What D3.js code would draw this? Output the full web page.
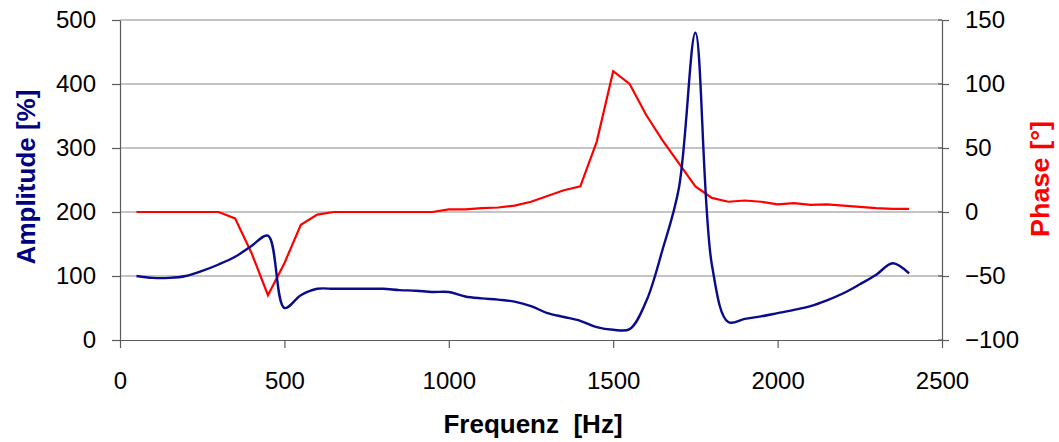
<!DOCTYPE html>
<html>
<head>
<meta charset="utf-8">
<script src="https://cdn.jsdelivr.net/npm/d3@7"></script>
<style>
  body { margin: 0; background: #fff; }
  text { font-family: Arial, "Liberation Sans", sans-serif; }
</style>
</head>
<body>
<svg width="1059" height="442"></svg>
<script>
// frequency grid (Hz)
var freq = [50, 100, 150, 200, 250, 300, 350, 400, 450, 500, 550, 600, 650, 700, 750, 800,
    850, 900, 950, 1000, 1050, 1100, 1150, 1200, 1250, 1300, 1350, 1400, 1450, 1500, 1550,
    1600, 1650, 1700, 1750, 1800, 1850, 1900, 1950, 2000, 2050, 2100, 2150, 2200, 2250,
    2300, 2350, 2400];

// amplitude [%]
var amplitude = [100, 97, 97, 100, 108, 118, 130, 147, 163, 50, 70, 80, 80, 80, 80, 80,
    78, 77, 75, 75, 68, 65, 63, 60, 53, 42, 36, 30, 20, 16, 17,
    60, 141, 238, 480, 118, 28, 33, 37, 42, 47, 53, 62, 73, 87,
    102, 120, 104];

// phase [deg]
var phase = [0, 0, 0, 0, 0, 0, -5, -32, -65, -40, -10, -2, 0, 0, 0, 0,
    0, 0, 0, 2, 2, 3, 3.5, 5, 8, 12.5, 17, 20, 55, 110, 100,
    76, 56, 38, 20, 11, 8, 9, 8, 6, 7, 5.5, 6, 5, 4,
    3, 2.5, 2.5];

var xTicks = [0, 500, 1000, 1500, 2000, 2500];
var ampTicks = [0, 100, 200, 300, 400, 500];
var phaseTicks = [-100, -50, 0, 50, 100, 150];

var svg = d3.select("svg"),
    plotLeft = 120, plotRight = 942, plotTop = 20, plotBottom = 340;

var x = d3.scaleLinear().domain([0, 2500]).range([plotLeft, plotRight]);
var yA = d3.scaleLinear().domain([0, 500]).range([plotBottom, plotTop]);
var yP = d3.scaleLinear().domain([-100, 150]).range([plotBottom, plotTop]);

// gridlines
svg.append("g")
    .selectAll("line")
    .data(ampTicks.filter(function (d) { return d > 0; }))
    .enter().append("line")
    .attr("x1", plotLeft).attr("x2", plotRight)
    .attr("y1", function (d) { return yA(d); })
    .attr("y2", function (d) { return yA(d); })
    .attr("stroke", "#8a8a8a")
    .attr("stroke-width", 1.2);

function styleAxis(g) {
    g.select(".domain").attr("stroke", "#5a5a5a").attr("stroke-width", 1.2);
    g.selectAll(".tick line").attr("stroke", "#5a5a5a").attr("stroke-width", 1.2);
    g.selectAll(".tick text").attr("fill", "#000").style("font-size", "24px")
        .style("font-family", "Arial, 'Liberation Sans', sans-serif");
}

var fmt = d3.format("d");

svg.append("g")
    .attr("transform", "translate(" + plotLeft + ",0)")
    .call(d3.axisLeft(yA).tickValues(ampTicks).tickFormat(fmt)
        .tickSize(8).tickSizeOuter(0).tickPadding(16))
    .call(styleAxis);

svg.append("g")
    .attr("transform", "translate(" + plotRight + ",0)")
    .call(d3.axisRight(yP).tickValues(phaseTicks).tickFormat(fmt)
        .tickSize(7).tickSizeOuter(0).tickPadding(16))
    .call(styleAxis);

svg.append("g")
    .attr("transform", "translate(0," + plotBottom + ")")
    .call(d3.axisBottom(x).tickValues(xTicks).tickFormat(fmt)
        .tickSize(8).tickSizeOuter(0).tickPadding(24))
    .call(styleAxis);

// inner half of the right ticks
svg.append("g")
    .selectAll("line")
    .data(phaseTicks)
    .enter().append("line")
    .attr("x1", plotRight - 4).attr("x2", plotRight)
    .attr("y1", function (d) { return yP(d); })
    .attr("y2", function (d) { return yP(d); })
    .attr("stroke", "#5a5a5a").attr("stroke-width", 1.2);

// series
var ampLine = d3.line()
    .x(function (d, i) { return x(freq[i]); })
    .y(function (d) { return yA(d); })
    .curve(d3.curveCatmullRom.alpha(0.5));

var phaseLine = d3.line()
    .x(function (d, i) { return x(freq[i]); })
    .y(function (d) { return yP(d); });

svg.append("path")
    .datum(phase)
    .attr("d", phaseLine)
    .attr("fill", "none")
    .attr("stroke", "#ff0000")
    .attr("stroke-width", 2.2);

svg.append("path")
    .datum(amplitude)
    .attr("d", ampLine)
    .attr("fill", "none")
    .attr("stroke", "#0a0a8c")
    .attr("stroke-width", 2.4);

// titles
svg.append("text")
    .attr("x", 533).attr("y", 433)
    .attr("text-anchor", "middle")
    .style("font-size", "26px").style("font-weight", "bold")
    .style("white-space", "pre")
    .attr("fill", "#000")
    .text("Frequenz  [Hz]");

svg.append("text")
    .attr("transform", "translate(35,177) rotate(-90)")
    .attr("text-anchor", "middle")
    .style("font-size", "26px").style("font-weight", "bold")
    .attr("fill", "#000080")
    .text("Amplitude [%]");

svg.append("text")
    .attr("transform", "translate(1049,179) rotate(-90)")
    .attr("text-anchor", "middle")
    .style("font-size", "25px").style("font-weight", "bold")
    .attr("textLength", 116).attr("lengthAdjust", "spacingAndGlyphs")
    .attr("fill", "#ff0000")
    .text("Phase [°]");
</script>
</body>
</html>
